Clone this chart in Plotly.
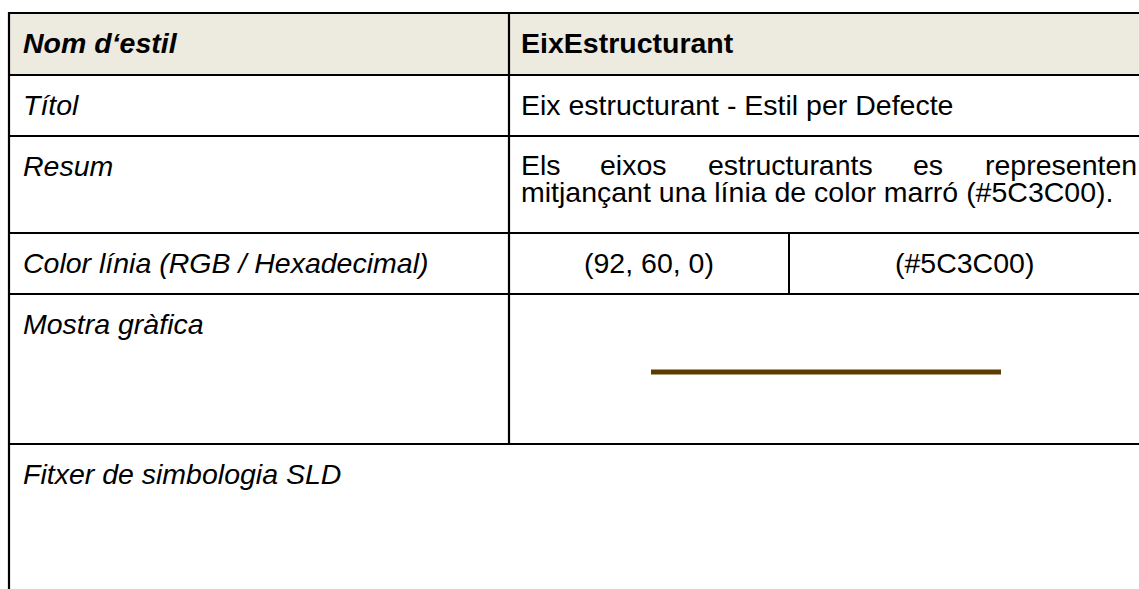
import plotly.graph_objects as go

# ---- table content ----
row_labels = ["Nom d‘estil", "Títol", "Resum", "Color línia (RGB / Hexadecimal)",
              "Mostra gràfica", "Fitxer de simbologia SLD"]
header_value = "EixEstructurant"
title_value = "Eix estructurant - Estil per Defecte"
resum_line1_words = ["Els", "eixos", "estructurants", "es", "representen"]
resum_line2 = "mitjançant una línia de color marró (#5C3C00)."
color_rgb = (92, 60, 0)
color_hex = "#5C3C00"

# ---- layout geometry (pixels) ----
W, H = 1139, 589
row_edges = [13, 75, 136, 233, 294, 444, 589]
x_left = 9
x_div = 509
x_split = 789
x_right = 1145
pad_x = 12
cap_off = 30          # text centre offset from row top
font_family = "Liberation Sans, Arial, sans-serif"
fs = 28.5
header_fill = "#EDEAE0"
line_col = "#000000"

fig = go.Figure()

shapes = []
# header fill
shapes.append(dict(type="rect", x0=x_left, x1=x_right, y0=row_edges[0], y1=row_edges[1],
                   fillcolor=header_fill, line=dict(width=0), layer="below"))
# horizontal borders
for y in row_edges[:-1]:
    shapes.append(dict(type="line", x0=x_left - 1, x1=x_right, y0=y, y1=y,
                       line=dict(color=line_col, width=2.2)))
# left border
shapes.append(dict(type="line", x0=x_left, x1=x_left, y0=row_edges[0] - 1, y1=H + 5,
                   line=dict(color=line_col, width=2.2)))
# column divider
shapes.append(dict(type="line", x0=x_div, x1=x_div, y0=row_edges[0], y1=row_edges[5],
                   line=dict(color=line_col, width=2.2)))
# split in colour row
shapes.append(dict(type="line", x0=x_split, x1=x_split, y0=row_edges[3], y1=row_edges[4],
                   line=dict(color=line_col, width=2)))
# graphic sample line
shapes.append(dict(type="line", x0=651, x1=1001, y0=372, y1=372,
                   line=dict(color=color_hex, width=5)))

ann = []


def add_text(x, y, text, xanchor="left", italic=False, bold=False):
    t = text
    if bold:
        t = "<b>" + t + "</b>"
    if italic:
        t = "<i>" + t + "</i>"
    ann.append(dict(x=x, y=y, xref="x", yref="y", text=t, showarrow=False,
                    xanchor=xanchor, yanchor="middle",
                    font=dict(family=font_family, size=fs, color="#000000")))


# labels (left column)
for i, lab in enumerate(row_labels):
    add_text(x_left + pad_x, row_edges[i] + cap_off, lab, italic=True, bold=(i == 0))

# right column values
add_text(x_div + 10, row_edges[0] + cap_off, header_value, bold=True)
add_text(x_div + 10, row_edges[1] + cap_off, title_value)

# justified first line of summary (first word flush left, last flush right)
word_x = [x_div + 10, 633, 790, 928, 1139]
word_anchor = ["left", "center", "center", "center", "right"]
for w, xc, xa in zip(resum_line1_words, word_x, word_anchor):
    add_text(xc, row_edges[2] + cap_off - 1, w, xanchor=xa)
add_text(x_div + 10, row_edges[2] + cap_off + 26, resum_line2)

# colour row
add_text((x_div + x_split) / 2, row_edges[3] + cap_off,
         "(" + ", ".join(str(v) for v in color_rgb) + ")", xanchor="center")
add_text((x_split + 1139) / 2, row_edges[3] + cap_off, "(" + color_hex + ")", xanchor="center")

fig.update_layout(
    width=W, height=H,
    margin=dict(l=0, r=0, t=0, b=0),
    paper_bgcolor="white", plot_bgcolor="white",
    xaxis=dict(range=[0, W], visible=False, fixedrange=True),
    yaxis=dict(range=[H, 0], visible=False, fixedrange=True),
    shapes=shapes, annotations=ann, showlegend=False,
)

fig.write_html("out.html",
               config={"displayModeBar": False},
               post_script="document.body.style.margin='0px';"
                           "document.body.style.overflow='hidden';")
